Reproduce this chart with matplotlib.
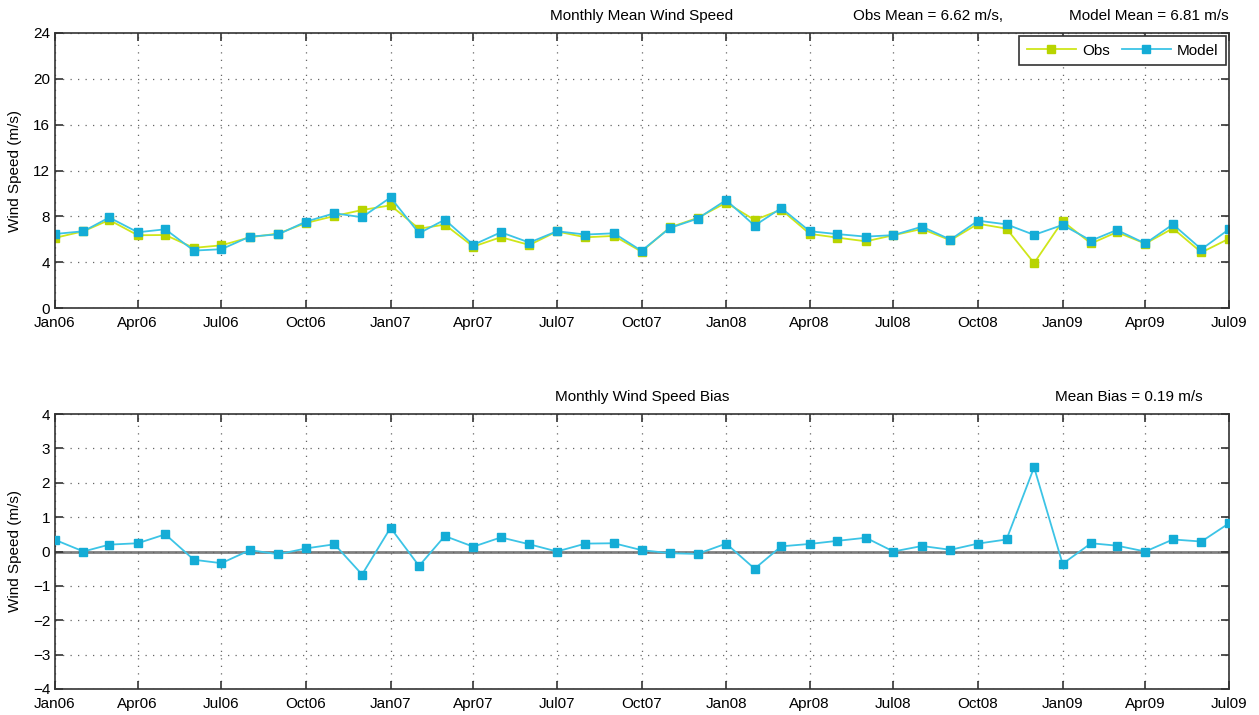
import numpy as np
import pandas as pd
import matplotlib
matplotlib.use("Agg")
import matplotlib.pyplot as plt
import matplotlib.dates as mdates

plt.rcParams['font.family'] = ['Liberation Sans', 'DejaVu Sans']
plt.rcParams['font.size'] = 11

# monthly means, Jan 2006 .. Jul 2009
months = pd.date_range("2006-01-01", "2009-07-01", freq="MS")

obs = [6.12, 6.70, 7.68, 6.35, 6.37, 5.25, 5.47, 6.17, 6.50, 7.42,
       8.03, 8.55, 8.96, 6.92, 7.28, 5.36, 6.18, 5.50, 6.68, 6.17,
       6.29, 4.92, 7.04, 7.86, 9.19, 7.68, 8.58, 6.47, 6.14, 5.82,
       6.35, 6.90, 5.91, 7.35, 6.93, 3.92, 7.58, 5.63, 6.62, 5.62,
       6.95, 4.85, 6.05]
model = [6.46, 6.70, 7.90, 6.61, 6.87, 5.01, 5.13, 6.23, 6.43, 7.54,
         8.27, 7.92, 9.65, 6.52, 7.71, 5.51, 6.61, 5.71, 6.70, 6.41,
         6.52, 4.99, 6.99, 7.80, 9.42, 7.19, 8.72, 6.70, 6.45, 6.23,
         6.36, 7.10, 5.97, 7.62, 7.30, 6.38, 7.25, 5.88, 6.81, 5.63,
         7.30, 5.13, 6.87]
bias = [0.34, 0.00, 0.20, 0.24, 0.50, -0.24, -0.34, 0.04, -0.08, 0.09,
        0.21, -0.67, 0.69, -0.42, 0.45, 0.14, 0.41, 0.21, 0.00, 0.23,
        0.24, 0.04, -0.05, -0.07, 0.23, -0.50, 0.15, 0.22, 0.31, 0.40,
        0.00, 0.16, 0.05, 0.23, 0.35, 2.45, -0.36, 0.24, 0.17, 0.00,
        0.35, 0.29, 0.82]

obs_mean = 6.62
model_mean = 6.81
mean_bias = 0.19

OBS_LINE = '#cfe61a'
OBS_MARK = '#b8d400'
MOD_LINE = '#3cc4e6'
MOD_MARK = '#14acd6'

W, H = 1259, 715
fig = plt.figure(figsize=(W / 100, H / 100), dpi=100)


def fx(px):
    return px / W


def fy(py):
    return 1 - py / H


def style_axes(ax):
    ax.grid(True, linestyle=(0, (1, 5)), color='#666666', linewidth=0.9)
    ax.tick_params(direction='in', top=True, right=True, length=6,
                   width=1.2, color='#333333', labelsize=11)
    ax.tick_params(axis='x', pad=6)
    for s in ax.spines.values():
        s.set_color('#333333')
        s.set_linewidth(1.2)
    ax.xaxis.set_major_locator(mdates.MonthLocator(bymonth=[1, 4, 7, 10]))
    ax.xaxis.set_major_formatter(mdates.DateFormatter('%b%y'))
    ax.set_xlim(months[0], months[-1])
    ax.set_ylabel('Wind Speed (m/s)', fontsize=11, labelpad=8)


ax1 = fig.add_axes([fx(55), fy(308), fx(1229 - 55), (308 - 33) / H])
ax1.plot(months, obs, '-', color=OBS_LINE, lw=1.3, marker='s', ms=6,
         mfc=OBS_MARK, mec=OBS_MARK, label='Obs')
ax1.plot(months, model, '-', color=MOD_LINE, lw=1.3, marker='s', ms=6,
         mfc=MOD_MARK, mec=MOD_MARK, label='Model')
ax1.set_ylim(0, 24)
ax1.set_yticks(np.arange(0, 25, 4))
style_axes(ax1)
leg = ax1.legend(loc='upper right', ncol=2, fancybox=False, framealpha=1,
                 edgecolor='#333333', fontsize=11, borderaxespad=0.2,
                 handlelength=3.2, columnspacing=0.8, handletextpad=0.4,
                 borderpad=0.5)
leg.get_frame().set_linewidth(1.2)

ax2 = fig.add_axes([fx(55), fy(689), fx(1229 - 55), (689 - 414) / H])
ax2.axhline(0, color='#808080', lw=2, zorder=1.5)
ax2.plot(months, bias, '-', color=MOD_LINE, lw=1.3, marker='s', ms=6,
         mfc=MOD_MARK, mec=MOD_MARK, zorder=3)
ax2.set_ylim(-4, 4)
ax2.set_yticks(np.arange(-4, 5, 1))
ax2.set_yticklabels([str(v).replace('-', '\u2212') for v in range(-4, 5)])
style_axes(ax2)

fig.text(fx(642), fy(16), 'Monthly Mean Wind Speed', ha='center', va='center', fontsize=11)
fig.text(fx(853), fy(16), f'Obs Mean = {obs_mean:.2f} m/s,', ha='left', va='center', fontsize=11)
fig.text(fx(1229), fy(16), f'Model Mean = {model_mean:.2f} m/s', ha='right', va='center', fontsize=11)
fig.text(fx(642), fy(397), 'Monthly Wind Speed Bias', ha='center', va='center', fontsize=11)
fig.text(fx(1203), fy(397), f'Mean Bias = {mean_bias:.2f} m/s', ha='right', va='center', fontsize=11)

fig.savefig('out.png', dpi=100)
